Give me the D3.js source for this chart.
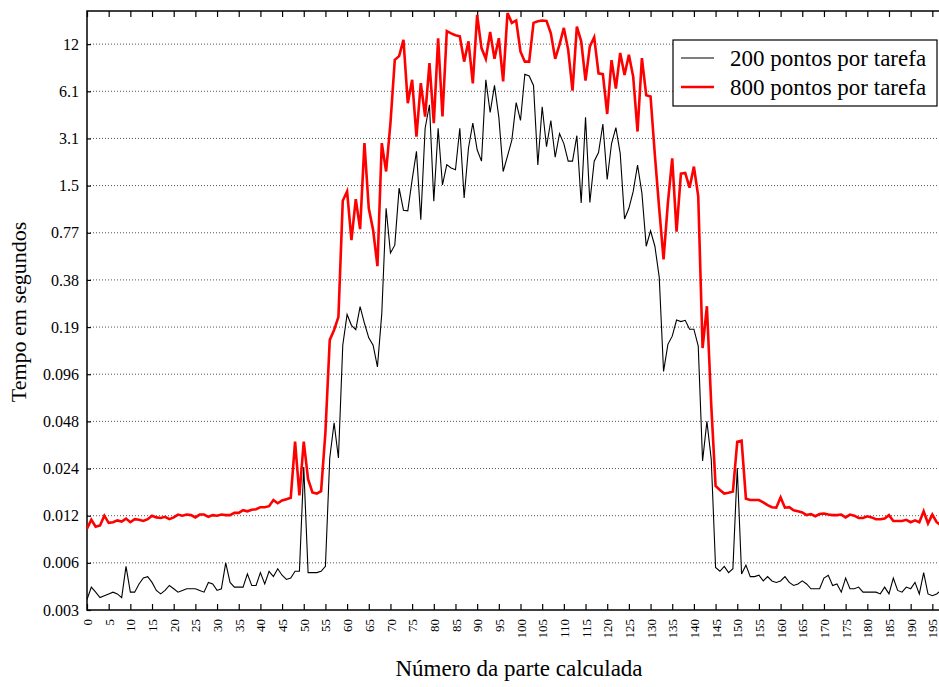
<!DOCTYPE html>
<html>
<head>
<meta charset="utf-8">
<script src="https://cdn.jsdelivr.net/npm/d3@7"></script>
<style>
  body { margin: 0; background: #fff; }
  svg { display: block; font-family: "Liberation Serif", "Times New Roman", serif; }
</style>
</head>
<body>
<svg width="939" height="687"></svg>
<script>

// tempo (s) por parte calculada, 0..197
var pontos200 = [
  0.0035, 0.0042, 0.0039, 0.0036, 0.0037, 0.0038, 0.0039, 0.0038, 0.0036, 0.0057,
  0.0039, 0.0039, 0.0044, 0.0048, 0.0049, 0.0045, 0.0040, 0.0038, 0.0040, 0.0043,
  0.0041, 0.0039, 0.0040, 0.0041, 0.0041, 0.0041, 0.0040, 0.0039, 0.0045, 0.0044,
  0.0040, 0.0041, 0.0060, 0.0045, 0.0042, 0.0042, 0.0042, 0.0051, 0.0043, 0.0043,
  0.0052, 0.0044, 0.0053, 0.0049, 0.0055, 0.0050, 0.0047, 0.0048, 0.0053, 0.0053,
  0.0245, 0.0052, 0.0052, 0.0052, 0.0053, 0.0057, 0.028, 0.047, 0.028, 0.147,
  0.231, 0.197, 0.185, 0.259, 0.203, 0.164, 0.147, 0.107, 0.234, 1.10,
  0.57, 0.64, 1.48, 1.07, 1.06, 1.67, 2.54, 0.93, 3.57, 5.04,
  1.22, 3.57, 1.55, 2.09, 1.99, 1.94, 3.57, 1.28, 2.67, 3.85,
  2.6, 2.2, 7.27, 4.5, 6.7, 4.2, 1.89, 2.37, 3.0, 5.2,
  4.0, 7.9, 7.7, 6.7, 2.08, 4.9, 2.72, 4.0, 2.33, 3.3,
  2.85, 2.2, 2.2, 3.2, 1.19, 4.2, 1.2, 2.2, 2.5, 3.8,
  1.68, 2.85, 3.6, 2.47, 0.94, 1.10, 1.41, 2.08, 1.38, 0.63,
  0.79, 0.63, 0.40, 0.100, 0.149, 0.168, 0.213, 0.208, 0.212, 0.186,
  0.186, 0.145, 0.0268, 0.048, 0.0275, 0.0056, 0.0053, 0.0057, 0.0052, 0.0055,
  0.0242, 0.0051, 0.0058, 0.0049, 0.0049, 0.0050, 0.0046, 0.0049, 0.0046, 0.0045,
  0.0046, 0.0049, 0.0045, 0.0043, 0.0044, 0.0046, 0.0044, 0.0041, 0.0041, 0.0041,
  0.0048, 0.0050, 0.0043, 0.0044, 0.0039, 0.0048, 0.0041, 0.0041, 0.0042, 0.0039,
  0.0039, 0.0039, 0.0039, 0.0038, 0.0042, 0.0038, 0.0048, 0.0040, 0.0039, 0.0042,
  0.0041, 0.0045, 0.0038, 0.0052, 0.0038, 0.0037, 0.0038, 0.0040
];

var pontos800 = [
  0.0099, 0.0113, 0.0102, 0.0104, 0.0120, 0.0108, 0.0109, 0.0112, 0.0110, 0.0115,
  0.0109, 0.0114, 0.0113, 0.0111, 0.0114, 0.0120, 0.0117, 0.0116, 0.0118, 0.0114,
  0.0117, 0.0122, 0.0120, 0.0122, 0.0121, 0.0117, 0.0122, 0.0122, 0.0118, 0.0121,
  0.0120, 0.0122, 0.0121, 0.0121, 0.0125, 0.0125, 0.0130, 0.0128, 0.0131, 0.0132,
  0.0136, 0.0136, 0.0138, 0.0151, 0.0144, 0.0150, 0.0153, 0.0156, 0.0356, 0.0162,
  0.0356, 0.0205, 0.0169, 0.0166, 0.0172, 0.0409, 0.159, 0.184, 0.223, 1.23,
  1.41, 0.69, 1.26, 0.81, 2.87, 1.10, 0.80, 0.47, 2.87, 1.89,
  3.85, 9.76, 10.3, 13.1, 5.16, 7.27, 3.16, 6.93, 4.24, 9.29,
  3.85, 13.4, 4.24, 14.9, 14.4, 14.0, 13.8, 9.5, 12.8, 6.9,
  18.9, 11.6, 9.9, 14.7, 9.9, 13.4, 7.1, 19.4, 16.8, 17.4,
  11.0, 9.5, 9.5, 16.8, 17.2, 17.4, 17.3, 14.4, 9.9, 12.2,
  15.6, 11.3, 6.2, 15.9, 12.8, 7.2, 11.9, 13.6, 8.0, 7.9,
  4.4, 9.7, 6.4, 10.8, 7.8, 10.5, 7.6, 3.4, 10.0, 5.8,
  5.7, 2.4, 1.09, 0.52, 1.19, 2.29, 0.78, 1.83, 1.85, 1.49,
  2.03, 1.31, 0.141, 0.261, 0.061, 0.0186, 0.0175, 0.0166, 0.0168, 0.0171,
  0.0356, 0.0362, 0.0154, 0.0151, 0.0151, 0.0151, 0.0146, 0.0140, 0.0136, 0.0135,
  0.0157, 0.0135, 0.0136, 0.0130, 0.0128, 0.0126, 0.0121, 0.0123, 0.0119, 0.0123,
  0.0124, 0.0122, 0.0121, 0.0121, 0.0122, 0.0117, 0.0122, 0.0120, 0.0116, 0.0116,
  0.0119, 0.0117, 0.0114, 0.0114, 0.0115, 0.0121, 0.0111, 0.0111, 0.0111, 0.0113,
  0.0109, 0.0112, 0.0109, 0.0128, 0.0107, 0.0122, 0.0109, 0.0104
];

var yTicks = [0.003, 0.006, 0.012, 0.024, 0.048, 0.096, 0.192, 0.384, 0.768, 1.536, 3.072, 6.144, 12.288];
var xTicks = d3.range(0, 200, 5);

var series = [
  {name: "200 pontos por tarefa", values: pontos200, color: "#000", width: 1.1},
  {name: "800 pontos por tarefa", values: pontos800, color: "#ff0000", width: 2.6}
];


var plotLeft = 87, plotRight = 941, plotTop = 11, plotBottom = 610;

var svg = d3.select("svg");

var x = d3.scaleLinear().domain([0, 197]).range([plotLeft, plotRight]);
var y = d3.scaleLog().domain([0.003, 20]).range([plotBottom, plotTop]);

// grade pontilhada
svg.append("g")
  .selectAll("line")
  .data(yTicks.slice(1))
  .enter().append("line")
    .attr("x1", plotLeft)
    .attr("x2", plotRight)
    .attr("y1", function(d) { return y(d); })
    .attr("y2", function(d) { return y(d); })
    .attr("stroke", "#555")
    .attr("stroke-width", 1)
    .attr("stroke-dasharray", "1,2");

// eixos
var xAxis = svg.append("g")
    .attr("transform", "translate(0," + plotBottom + ")")
    .call(d3.axisBottom(x).tickValues(xTicks).tickSize(-6).tickFormat(d3.format("d")));

xAxis.selectAll("text")
    .attr("transform", "rotate(-90)")
    .attr("text-anchor", "end")
    .attr("x", -9)
    .attr("y", 0)
    .attr("dy", "0.35em")
    .attr("font-size", 13);

svg.append("g")
    .attr("transform", "translate(0," + plotTop + ")")
    .call(d3.axisTop(x).tickValues(xTicks).tickSize(-6).tickFormat(""));

svg.append("g")
    .attr("transform", "translate(" + plotLeft + ",0)")
    .call(d3.axisLeft(y).tickValues(yTicks).tickSize(-4).tickPadding(8).tickFormat(d3.format(".2")))
    .selectAll("text")
    .attr("font-size", 16);

svg.selectAll(".domain").remove();
svg.selectAll(".tick line").attr("stroke", "#000").attr("stroke-width", 1.2);
svg.selectAll(".tick text").attr("fill", "#000").attr("font-family", "Liberation Serif, serif");

svg.append("rect")
    .attr("x", plotLeft)
    .attr("y", plotTop)
    .attr("width", plotRight - plotLeft)
    .attr("height", plotBottom - plotTop)
    .attr("fill", "none")
    .attr("stroke", "#000")
    .attr("stroke-width", 1.5);

// linhas
var line = d3.line()
    .x(function(d, i) { return x(i); })
    .y(function(d) { return y(d); });

svg.append("g")
  .selectAll("path")
  .data(series)
  .enter().append("path")
    .attr("d", function(d) { return line(d.values); })
    .attr("fill", "none")
    .attr("stroke", function(d) { return d.color; })
    .attr("stroke-width", function(d) { return d.width; })
    .attr("stroke-linejoin", "miter");

// legenda
var legend = svg.append("g");

legend.append("rect")
    .attr("x", 673)
    .attr("y", 40)
    .attr("width", 264)
    .attr("height", 66)
    .attr("fill", "#fff")
    .attr("stroke", "#000")
    .attr("stroke-width", 1.2);

var item = legend.selectAll(".item")
  .data(series)
  .enter().append("g")
    .attr("class", "item")
    .attr("transform", function(d, i) { return "translate(0," + (58 + i * 29) + ")"; });

item.append("line")
    .attr("x1", 681)
    .attr("x2", 714)
    .attr("stroke", function(d) { return d.color; })
    .attr("stroke-width", function(d) { return d.width; });

item.append("text")
    .attr("x", 730)
    .attr("dy", "0.35em")
    .attr("font-size", 23)
    .text(function(d) { return d.name; });

// títulos
svg.append("text")
    .attr("x", 519)
    .attr("y", 676)
    .attr("text-anchor", "middle")
    .attr("font-size", 23)
    .text("Número da parte calculada");

svg.append("text")
    .attr("transform", "translate(26,312) rotate(-90)")
    .attr("text-anchor", "middle")
    .attr("font-size", 22)
    .text("Tempo em segundos");

</script>
</body>
</html>
